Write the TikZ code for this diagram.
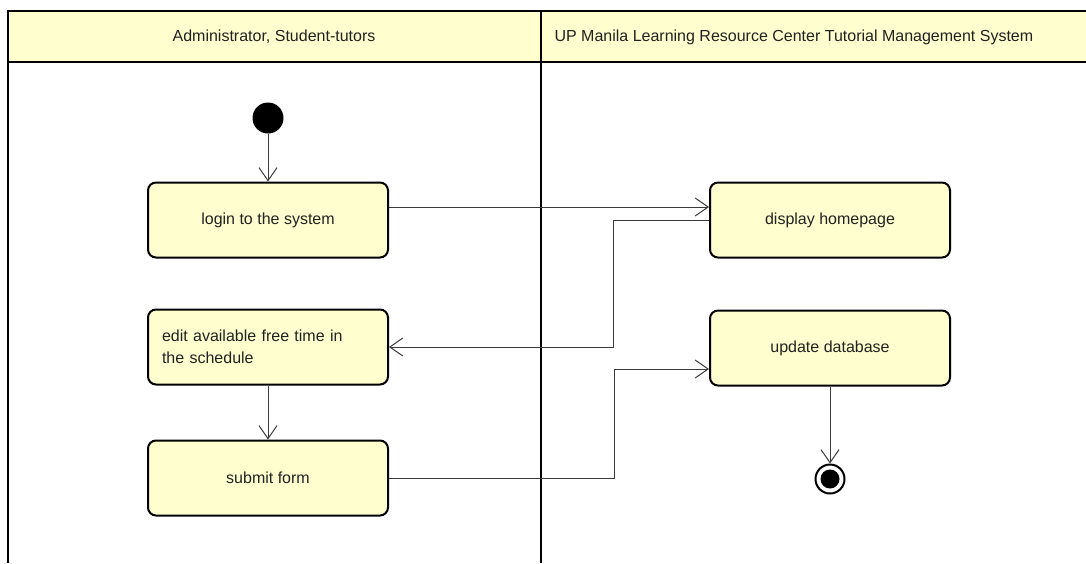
\documentclass[tikz,border=0pt]{standalone}
\usepackage{fontspec}
\setmainfont{Liberation Sans}
\usepackage{tikz}
\usetikzlibrary{arrows.meta}
\usetikzlibrary{positioning}
\definecolor{umlyellow}{HTML}{FEFECE}
\definecolor{flowgrey}{HTML}{3A3A3A}
\definecolor{labelgrey}{HTML}{222222}
\tikzstyle{lane} = [draw=black,line width=2.5pt]
\tikzstyle{action} = [rectangle,rounded corners=8pt,draw=black,line width=2pt,fill=umlyellow,minimum width=240pt,minimum height=75pt,inner sep=0pt,text=labelgrey,font=\fontsize{16}{22}\selectfont]
\tikzstyle{startnode} = [circle,fill=black,minimum size=31pt,inner sep=0pt]
\tikzstyle{endnode} = [circle,draw=black,line width=2pt,fill=white,minimum size=29pt,inner sep=0pt]
\tikzstyle{enddot} = [circle,fill=black,minimum size=19pt,inner sep=0pt]
\tikzstyle{edge} = [draw,color=flowgrey,line width=1pt,-{Straight Barb[length=13pt,width=18pt]}]

\begin{document}
\begin{tikzpicture}[x=1pt,y=-1pt]
    \useasboundingbox (0,0) rectangle (1086,563);

    % swimlanes
    \fill[umlyellow] (8,11) rectangle (1086,62);
    \draw[lane] (1086,11) -- (8,11) -- (8,563);
    \draw[lane] (8,62) -- (1086,62);
    \draw[lane] (541,11) -- (541,563);
    \node[text=labelgrey,font=\fontsize{16}{20}\selectfont] (laneA) at (274,37) {Administrator, Student-tutors};
    \node[text=labelgrey,font=\fontsize{16}{20}\selectfont,anchor=west] (laneB) at (551,37) {UP Manila Learning Resource Center Tutorial Management System};

    % actions
    \node[startnode] (start) at (268,118) {};
    \node[action] (login) at (268,220) {login to the system};
    \node[action,text width=212pt,inner xsep=14pt,align=left] (edit) at (268,347) {edit available free time in\\the schedule};
    \node[action] (submit) at (268,478) {submit form};
    \node[action] (display) at (830,220) {display homepage};
    \node[action] (update) at (830,348) {update database};
    \node[endnode] (stop) at (830,479) {};
    \node[enddot] at (stop) {};

    % flows
    \path[edge] (start) -- (login);
    \path[edge] ([yshift=13pt]login.east) -- ([yshift=13pt]display.west);
    \path[edge] (display.west) -- ++(-96,0) |- (edit.east);
    \path[edge] (edit) -- (submit);
    \path[edge] (submit.east) -- ++(225,0) |- ([yshift=-21pt]update.west);
    \path[edge] (update) -- (stop);
\end{tikzpicture}
\end{document}
